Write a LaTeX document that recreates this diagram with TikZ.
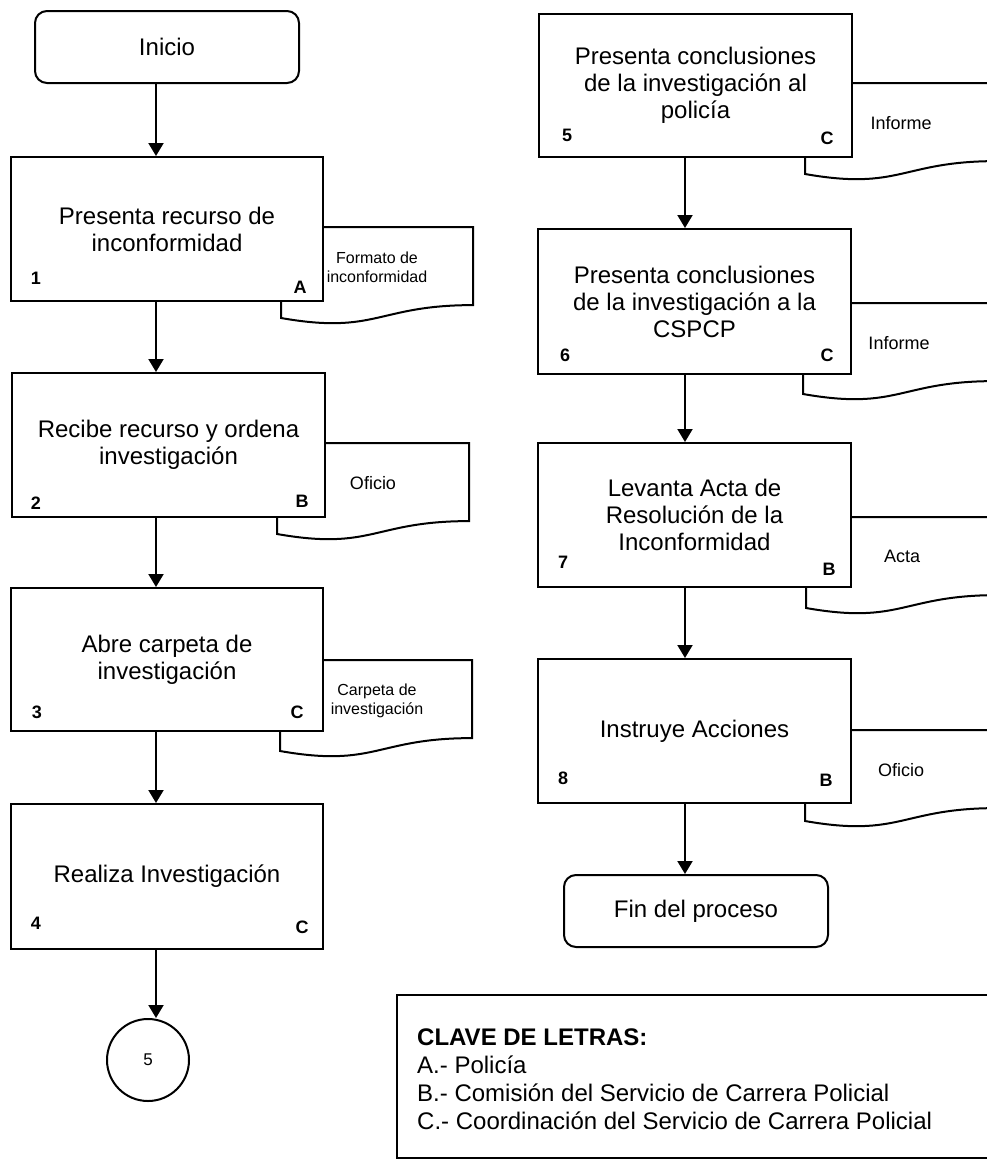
\documentclass[tikz,border=0pt]{standalone}
\usepackage{fontspec}
\setmainfont{Liberation Sans}
\usetikzlibrary{arrows.meta}
\begin{document}
\begin{tikzpicture}[x=1pt,y=-1pt,
  stepbox/.style={draw,line width=2pt,fill=white,inner sep=0pt,align=center,
    minimum width=312pt,font=\fontsize{24}{27}\selectfont},
  endbox/.style={stepbox,rounded corners=12pt,minimum width=264pt,minimum height=72pt},
  numtag/.style={inner sep=0pt,font=\fontsize{18}{20}\selectfont\bfseries},
  doctext/.style={inner sep=0pt,align=center,font=\fontsize{18}{20}\selectfont},
  docsmall/.style={inner sep=0pt,align=center,font=\fontsize{16}{19}\selectfont},
  legendline/.style={inner sep=0pt,anchor=base west,font=\fontsize{24}{28}\selectfont},
  arr/.style={line width=2pt,-{Triangle[width=15pt,length=13pt]}},
  docpic/.pic={\draw[line width=2pt,fill=white]
    (0,0) -- (192,0) -- (192,78.1) .. controls (96,78.1) and (96,107.9) .. (0,91) -- cycle;}
]
\useasboundingbox (0,0) rectangle (987,1159);
\clip (0,0) rectangle (987,1159);

% documents produced by each step (drawn first, partly behind the boxes)
\pic at (281,227) {docpic};
\pic at (277,443) {docpic};
\pic at (280,660) {docpic};
\pic at (805,83) {docpic};
\pic at (803,303) {docpic};
\pic at (806,517) {docpic};
\pic at (805,730) {docpic};

% left column
\node[endbox] (ini) at (167,47) {Inicio};
\node[stepbox,minimum height=144pt] (b1) at (167,229) {Presenta recurso de\\inconformidad};
\node[stepbox,minimum width=313pt,minimum height=144pt] (b2) at (168.5,445) {Recibe recurso y ordena\\investigación};
\node[stepbox,minimum height=143pt] (b3) at (167,659.5) {Abre carpeta de\\investigación};
\node[stepbox,minimum height=145pt] (b4) at (167,876.5) {Realiza Investigación};
\node[draw,line width=2pt,circle,minimum size=82pt,inner sep=0pt,
  font=\fontsize{17}{20}\selectfont] (c5) at (148,1060) {5};

% right column
\node[stepbox,minimum width=313pt,minimum height=143pt] (b5) at (695.5,85.5) {Presenta conclusiones\\de la investigación al\\policía};
\node[stepbox,minimum width=313pt,minimum height=145pt] (b6) at (694.5,301.5) {Presenta conclusiones\\de la investigación a la\\CSPCP};
\node[stepbox,minimum width=313pt,minimum height=144pt] (b7) at (694.5,515) {Levanta Acta de\\Resolución de la\\Inconformidad};
\node[stepbox,minimum width=313pt,minimum height=144pt] (b8) at (694.5,731) {Instruye Acciones};
\node[endbox] (fin) at (696,911) {Fin del proceso};

% step numbers and responsible letters
\node[numtag] (n1) at (36,278) {1};   \node[numtag] (r1) at (300,287) {A};
\node[numtag] (n2) at (36,503) {2};   \node[numtag] (r2) at (302,501) {B};
\node[numtag] (n3) at (37,712) {3};   \node[numtag] (r3) at (297,712) {C};
\node[numtag] (n4) at (36,923) {4};   \node[numtag] (r4) at (302,927) {C};
\node[numtag] (n5) at (567,135) {5};  \node[numtag] (r5) at (827,138) {C};
\node[numtag] (n6) at (565,355) {6};  \node[numtag] (r6) at (827,355) {C};
\node[numtag] (n7) at (563,562) {7};  \node[numtag] (r7) at (829,569) {B};
\node[numtag] (n8) at (563,778) {8};  \node[numtag] (r8) at (826,780) {B};

% document captions
\node[docsmall] (d1) at (377,267.5) {Formato de\\inconformidad};
\node[doctext] (d2) at (373,483) {Oficio};
\node[docsmall] (d3) at (377,701) {Carpeta de\\investigación};
\node[doctext] (d5) at (901,123) {Informe};
\node[doctext] (d6) at (899,343) {Informe};
\node[doctext] (d7) at (902,556) {Acta};
\node[doctext] (d8) at (901,770) {Oficio};

% flow connectors
\coordinate (lx) at (156,0);
\coordinate (rx) at (685,0);
\draw[arr] (lx |- ini.south) -- (lx |- b1.north);
\draw[arr] (lx |- b1.south) -- (lx |- b2.north);
\draw[arr] (lx |- b2.south) -- (lx |- b3.north);
\draw[arr] (lx |- b3.south) -- (lx |- b4.north);
\draw[arr] (lx |- b4.south) -- (lx |- c5.north);
\draw[arr] (rx |- b5.south) -- (rx |- b6.north);
\draw[arr] (rx |- b6.south) -- (rx |- b7.north);
\draw[arr] (rx |- b7.south) -- (rx |- b8.north);
\draw[arr] (rx |- b8.south) -- (rx |- fin.north);

% key of letters
\node[draw,line width=2pt,anchor=north west,minimum width=640pt,minimum height=163pt,inner sep=0pt] (legend) at (396,994) {};
\node[legendline,font=\fontsize{24}{28}\selectfont\bfseries] (k0) at (417,1045) {CLAVE DE LETRAS:};
\node[legendline] (k1) at (417,1073) {A.- Policía};
\node[legendline] (k2) at (417,1101) {B.- Comisión del Servicio de Carrera Policial};
\node[legendline] (k3) at (417,1129) {C.- Coordinación del Servicio de Carrera Policial};
\end{tikzpicture}
\end{document}
